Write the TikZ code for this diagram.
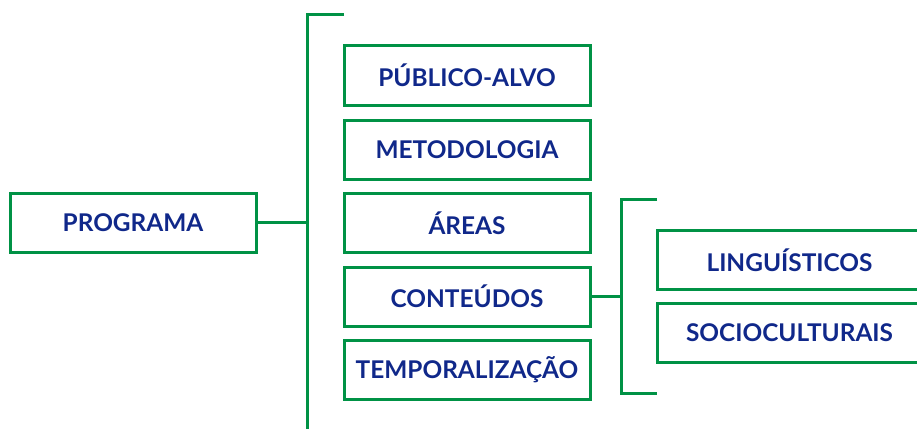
\documentclass[tikz,border=0pt]{standalone}
\usepackage{fontspec}
\setmainfont{Lato}
\definecolor{lgreen}{RGB}{0,146,69}
\definecolor{ltext}{RGB}{16,40,138}
\begin{document}
\begin{tikzpicture}[x=1pt,y=-1pt,
  box/.style={draw=lgreen, line width=3pt, minimum width=246pt, minimum height=59pt,
    inner sep=0pt, text=ltext, font=\fontsize{24.4}{28}\selectfont\bfseries, anchor=center},
  wbox/.style={box, minimum width=265pt},
  link/.style={draw=lgreen, line width=3pt}]
\useasboundingbox (0,0) rectangle (917,428);
\node[box] (prog) at (133,222.5) {PROGRAMA};
\node[box] (pub) at (467,75.5) {PÚBLICO-ALVO};
\node[box] (met) at (467,149.5) {METODOLOGIA};
\node[box] (are) at (467,223) {ÁREAS};
\node[box] (con) at (467,296.5) {CONTEÚDOS};
\node[box] (tem) at (467,370) {TEMPORALIZAÇÃO};
\node[wbox] (lin) at (789.5,260) {LINGUÍSTICOS};
\node[wbox] (soc) at (789.5,333) {SOCIOCULTURAIS};
\coordinate (b1t) at (344,15);
\coordinate (b1c) at (307,15);
\coordinate (b1b) at (307,432);
\coordinate (b2t) at (657,199);
\coordinate (b2c) at (621,199);
\coordinate (b2d) at (621,393);
\coordinate (b2b) at (657,393);
\draw[link] (b1t) -- (b1c) -- (b1b);
\draw[link] (prog.east) -- (prog.east -| b1c);
\draw[link] (b2t) -- (b2c) -- (b2d) -- (b2b);
\draw[link] (con.east) -- (con.east -| b2c);
\end{tikzpicture}
\end{document}
